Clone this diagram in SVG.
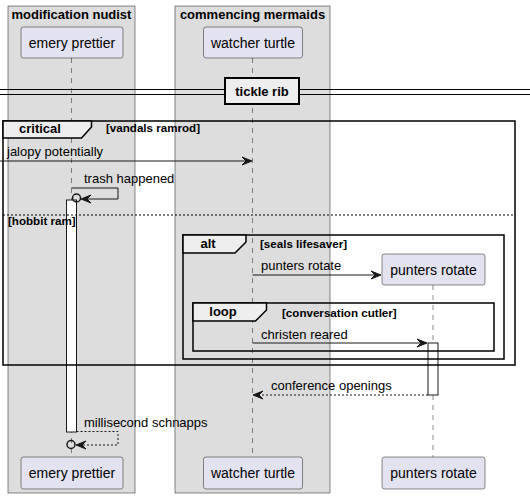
<svg xmlns="http://www.w3.org/2000/svg" width="530" height="497" viewBox="0 0 530 497">
<style>
text{font-family:"Liberation Sans",Arial,sans-serif;fill:#000}
.box{fill:#DDDDDD;stroke:#181818;stroke-width:0.5}
.bt{font-size:13px;font-weight:bold;text-anchor:middle}
.part{fill:#E2E2F0;stroke:#181818;stroke-width:0.5}
.pt{font-size:14px;text-anchor:middle}
.life{stroke:#181818;stroke-width:0.5;stroke-dasharray:5,5;fill:none}
.msg{stroke:#181818;stroke-width:1;fill:none}
.dash{stroke:#181818;stroke-width:1;fill:none;stroke-dasharray:2,2}
.mt{font-size:13px}
.head{fill:#181818;stroke:#181818;stroke-width:1}
.act{fill:#FFFFFF;stroke:#181818;stroke-width:1}
.grp{fill:none;stroke:#000;stroke-width:1.5}
.tab{fill:#EEEEEE;stroke:#000;stroke-width:1.5}
.gt{font-size:13px;font-weight:bold;text-anchor:middle}
.gc{font-size:11.6px;font-weight:bold}
.circ{fill:none;stroke:#181818;stroke-width:1.5}
</style>
<g id="box-modification-nudist">
<rect class="box" x="8" y="6" width="127" height="487"/>
<text class="bt" x="71.5" y="19">modification nudist</text>
</g>
<g id="box-commencing-mermaids">
<rect class="box" x="175" y="6" width="155" height="487"/>
<text class="bt" x="252.5" y="19">commencing mermaids</text>
</g>
<g id="lifelines">
<line class="life" x1="71.5" y1="58" x2="71.5" y2="457"/>
<line class="life" x1="252.5" y1="58" x2="252.5" y2="457"/>
<line class="life" x1="433" y1="285" x2="433" y2="457"/>
</g>
<g id="divider-tickle-rib">
<line x1="0" y1="89.5" x2="530" y2="89.5" stroke="#000" stroke-width="1"/>
<line x1="0" y1="94.5" x2="530" y2="94.5" stroke="#000" stroke-width="1"/>
<rect x="225" y="78" width="74" height="26" fill="#EEEEEE" stroke="#000" stroke-width="2"/>
<text class="bt" x="262" y="96">tickle rib</text>
</g>
<g id="p-emery-prettier">
<rect class="part" x="21" y="27" width="102" height="31" rx="2.5"/>
<text class="pt" x="72" y="47.5">emery prettier</text>
</g>
<g id="p-watcher-turtle">
<rect class="part" x="203.5" y="27" width="99" height="31" rx="2.5"/>
<text class="pt" x="253" y="47.5">watcher turtle</text>
</g>
<g id="p-punters-rotate">
<rect class="part" x="382" y="254" width="103" height="31" rx="2.5"/>
<text class="pt" x="433.5" y="274.5">punters rotate</text>
</g>
<g id="p-emery-prettier-bottom">
<rect class="part" x="21" y="457" width="102" height="32" rx="2.5"/>
<text class="pt" x="72" y="477.5">emery prettier</text>
</g>
<g id="p-watcher-turtle-bottom">
<rect class="part" x="203.5" y="457" width="99" height="32" rx="2.5"/>
<text class="pt" x="253" y="477.5">watcher turtle</text>
</g>
<g id="p-punters-rotate-bottom">
<rect class="part" x="382" y="457" width="103" height="32" rx="2.5"/>
<text class="pt" x="433.5" y="477.5">punters rotate</text>
</g>
<g id="activations">
<rect class="act" x="66.5" y="200" width="10" height="232"/>
<rect class="act" x="428" y="343" width="10" height="52"/>
</g>
<g id="group-critical">
<rect class="grp" x="3" y="121" width="512" height="244"/>
<polygon class="tab" points="3,121 91.5,121 91.5,127 81.5,138 3,138"/>
<text class="gt" x="40" y="133">critical</text>
<text class="gc" x="106" y="132">[vandals ramrod]</text>
<line x1="3" y1="215" x2="515" y2="215" stroke="#000" stroke-width="1" stroke-dasharray="2,2"/>
<text class="gc" x="8" y="225">[hobbit ram]</text>
</g>
<g id="group-alt">
<rect class="grp" x="183" y="235" width="321" height="124"/>
<polygon class="tab" points="183,235 246,235 246,242 235,253 183,253"/>
<text class="gt" x="208" y="248">alt</text>
<text class="gc" x="260" y="248">[seals lifesaver]</text>
</g>
<g id="group-loop">
<rect class="grp" x="193" y="303" width="301" height="48"/>
<polygon class="tab" points="193,303 266.5,303 266.5,310 255.5,321 193,321"/>
<text class="gt" x="223" y="316">loop</text>
<text class="gc" x="282" y="316.5">[conversation cutler]</text>
</g>
<g id="connectors">
<line class="msg" x1="0" y1="161" x2="250" y2="161"/>
<polygon class="head" points="242,157 252,161 242,165 246,161"/>
<text class="mt" x="7" y="156">jalopy potentially</text>

<polyline class="msg" points="71.5,188 118,188 118,199 84,199"/>
<polygon class="head" points="91,195 81,199 91,203 87,199"/>
<circle class="circ" cx="76.5" cy="198" r="4"/>
<text class="mt" x="84" y="182.5">trash happened</text>

<line class="msg" x1="252.5" y1="275" x2="379" y2="275"/>
<polygon class="head" points="371,271 381,275 371,279 375,275"/>
<text class="mt" x="261" y="270">punters rotate</text>

<line class="msg" x1="252.5" y1="343" x2="425" y2="343"/>
<polygon class="head" points="417,339 427,343 417,347 421,343"/>
<text class="mt" x="261" y="338.5">christen reared</text>

<line class="dash" x1="428" y1="395" x2="255" y2="395"/>
<polygon class="head" points="263,391 253,395 263,399 259,395"/>
<text class="mt" x="271" y="390">conference openings</text>

<polyline class="dash" points="76.5,431.5 118,431.5 118,445 79,445"/>
<polygon class="head" points="86,441 76,445 86,449 82,445"/>
<circle class="circ" cx="71" cy="444.5" r="4"/>
<text class="mt" x="84" y="426.5">millisecond schnapps</text>
</g>
</svg>
